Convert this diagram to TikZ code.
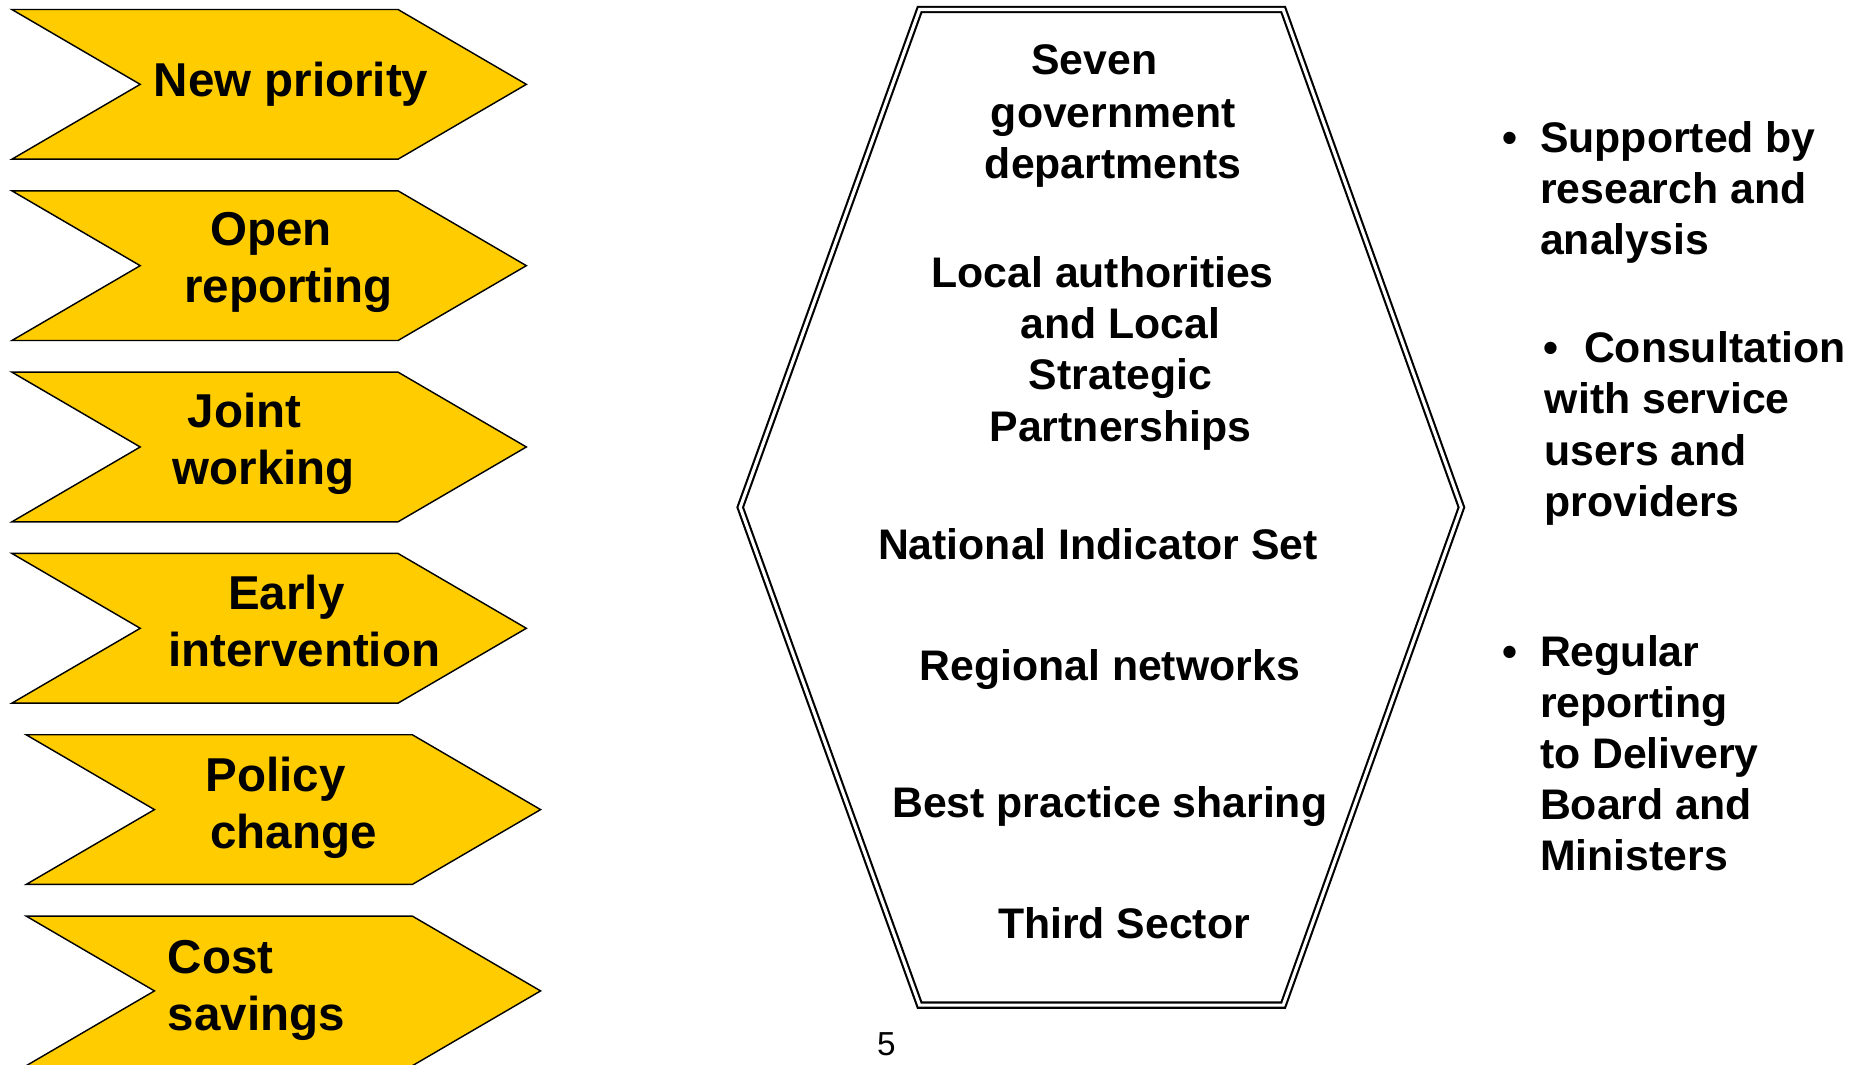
\documentclass[tikz,border=0pt]{standalone}
\usepackage{fontspec}
\setmainfont{Liberation Sans}
\definecolor{gold}{HTML}{FFCC00}
\begin{document}
\begin{tikzpicture}[x=1pt,y=-1pt,
  chev/.style={fill=gold,draw=black,line width=1.2pt,line join=miter},
  hexline/.style={draw=black,double=white,line width=1.8pt,double distance=2.6pt,line join=miter},
  big/.style={font=\fontsize{40}{48}\selectfont\bfseries,inner sep=0pt,anchor=base},
  bigl/.style={big,anchor=base west},
  mid/.style={font=\fontsize{36}{43.5}\selectfont\bfseries,inner sep=0pt,anchor=base},
  midl/.style={mid,anchor=base west},
  pnum/.style={font=\fontsize{28}{34}\selectfont,inner sep=0pt,anchor=base}]
\clip (0,0) rectangle (1568,896);
% chevrons
\foreach \cx/\cy in {10/8,10/160.6,10/313.2,10/465.8,22/618.4,22/771}{
  \draw[chev] (\cx,\cy) -- ++(325,0) -- ++(108,63) -- ++(-108,63) -- ++(-325,0) -- ++(108,-63) -- cycle;
}
\node[big] (c1) at (245,81.5) {New priority};
\node[big] (c2a) at (228,207) {Open};
\node[big] (c2b) at (243,255) {reporting};
\node[big] (c3a) at (206,360) {Joint};
\node[big] (c3b) at (222,408) {working};
\node[big] (c4a) at (241,513) {Early};
\node[big] (c4b) at (256,561) {intervention};
\node[big] (c5a) at (232,666) {Policy};
\node[big] (c5b) at (247,714) {change};
\node[bigl] (c6a) at (141,819) {Cost};
\node[bigl] (c6b) at (141,867) {savings};
% hexagon
\draw[hexline] (774,8) -- (1080,8) -- (1230,427) -- (1080,846) -- (774,846) -- (623,427) -- cycle;
\node[mid] (h1) at (921,63) {Seven};
\node[mid] (h2) at (937,107) {government};
\node[mid] (h3) at (937,150) {departments};
\node[mid] (h4) at (928,242) {Local authorities};
\node[mid] (h5) at (943,285) {and Local};
\node[mid] (h6) at (943,328) {Strategic};
\node[mid] (h7) at (943,372) {Partnerships};
\node[mid] (h8) at (924,471) {National Indicator Set};
\node[mid] (h9) at (934,573) {Regional networks};
\node[mid] (h10) at (934,688) {Best practice sharing};
\node[mid] (h11) at (946,790) {Third Sector};
% right bullets
\node[mid] (b1) at (1271,128) {\textbullet};
\node[midl] (r1) at (1296,128) {Supported by};
\node[midl] (r2) at (1296,171) {research and};
\node[midl] (r3) at (1296,214) {analysis};
\node[mid] (b2) at (1305,305) {\textbullet};
\node[midl] (r4) at (1333,305) {Consultation};
\node[midl] (r5) at (1300,348) {with service};
\node[midl] (r6) at (1300,392) {users and};
\node[midl] (r7) at (1300,435) {providers};
\node[mid] (b3) at (1271,561) {\textbullet};
\node[midl] (r8) at (1296,561) {Regular};
\node[midl] (r9) at (1296,604) {reporting};
\node[midl] (r10) at (1296,647) {to Delivery};
\node[midl] (r11) at (1296,690) {Board and};
\node[midl] (r12) at (1296,733) {Ministers};
% page number
\node[pnum] (pg) at (746,888) {5};
\end{tikzpicture}
\end{document}
